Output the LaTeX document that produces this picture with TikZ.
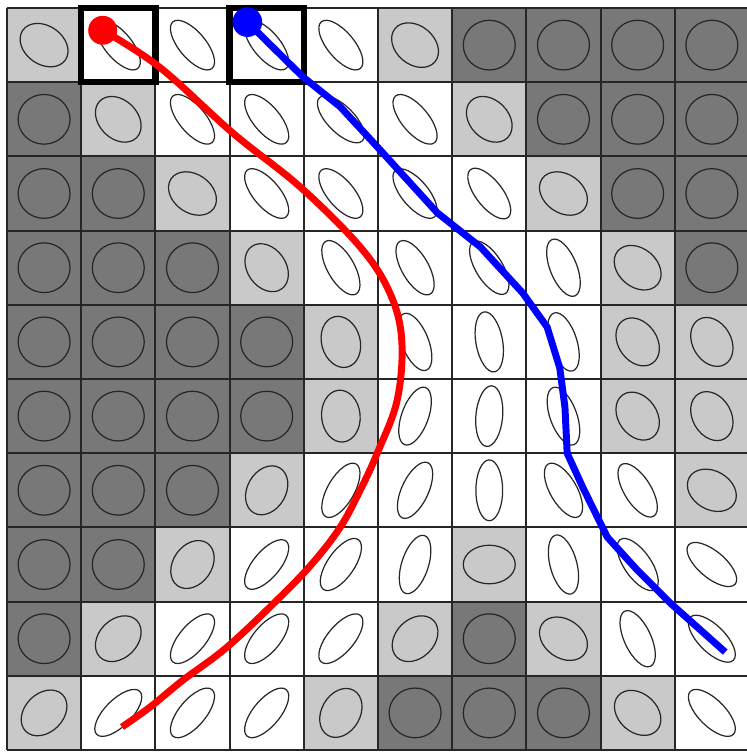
\documentclass[tikz,border=0pt]{standalone}
\usepackage{tikz}
\definecolor{darkcell}{gray}{0.47}
\definecolor{lightcell}{gray}{0.79}

\begin{document}
\begin{tikzpicture}[x=1.5cm,y=1.5cm,
	gridline/.style={black!85,line width=1.1pt},
	ell/.style={black!85,line width=0.7pt},
	pickbox/.style={black,line width=3.7pt},
	track/.style={line width=4pt,line join=round}]
	\useasboundingbox (-0.094,0.108) rectangle (9.973,-10.027);
	% cells
	\foreach \r/\c in {0/6,0/7,0/8,0/9,1/0,1/7,1/8,1/9,2/0,2/1,2/8,2/9,
		3/0,3/1,3/2,3/9,4/0,4/1,4/2,4/3,5/0,5/1,5/2,5/3,6/0,6/1,6/2,
		7/0,7/1,8/0,8/6,9/5,9/6,9/7}
		\fill[darkcell] (\c,-\r) rectangle ++(1,-1);
	\foreach \r/\c in {0/0,0/5,1/1,1/6,2/2,2/7,3/3,3/8,4/4,4/8,4/9,5/4,5/8,5/9,
		6/3,6/9,7/2,7/6,8/1,8/5,8/7,9/0,9/4,9/8}
		\fill[lightcell] (\c,-\r) rectangle ++(1,-1);
	\foreach \i in {0,...,10} {
		\draw[gridline] (\i,0) -- (\i,-10);
		\draw[gridline] (0,-\i) -- (10,-\i);
	}
	% ellipses
	\foreach \r/\c in {0/6,0/7,0/8,0/9,1/0,1/7,1/8,1/9,2/0,2/1,2/8,2/9,
		3/0,3/1,3/2,3/9,4/0,4/1,4/2,4/3,5/0,5/1,5/2,5/3,6/0,6/1,6/2,
		7/0,7/1,8/0,8/6,9/5,9/6,9/7}
		\draw[ell] (\c+0.5,-\r-0.5) ellipse [x radius=0.35,y radius=0.335];
	\foreach \r/\c/\a in {0/0/145,0/5/140,1/1/135,1/6/135,2/2/145,2/7/145,
		3/3/125,3/8/140,4/4/105,4/8/125,4/9/120,5/4/95,5/8/125,5/9/120,
		6/3/60,6/9/150,7/2/55,7/6/0,8/1/45,8/5/45,8/7/145,9/0/45,9/4/60,9/8/138}
		\draw[ell,shift={(\c+0.5,-\r-0.5)},rotate=\a] (0,0) ellipse [x radius=0.35,y radius=0.26];
	\foreach \r/\c/\a in {0/1/130,0/2/130,0/3/130,0/4/130,1/2/130,1/3/130,1/4/135,1/5/130,
		2/3/130,2/4/130,2/5/130,2/6/128,3/4/120,3/5/120,3/6/122,3/7/112,
		4/5/112,4/6/100,4/7/108,5/5/70,5/6/85,5/7/110,6/4/60,6/5/65,6/6/90,6/7/120,6/8/122,
		7/3/50,7/4/55,7/5/72,7/7/105,7/8/125,7/9/140,8/2/50,8/3/50,8/4/50,8/8/115,8/9/135,
		9/1/45,9/2/50,9/3/50,9/9/135}
		\draw[ell,shift={(\c+0.5,-\r-0.5)},rotate=\a] (0,0) ellipse [x radius=0.41,y radius=0.18];
	% start cells
	\draw[pickbox] (1,0) rectangle (2,-1);
	\draw[pickbox] (3,0) rectangle (4,-1);
	% tracks
	\coordinate (redstart) at (1.29,-0.30);
	\coordinate (redend) at (1.55,-9.69);
	\coordinate (bluestart) at (3.24,-0.19);
	\coordinate (blueend) at (9.68,-8.68);
	\draw[track,red] plot[smooth,tension=0.6] coordinates {(redstart) (2.06,-0.80) (3.05,-1.69)
		(3.95,-2.41) (4.76,-3.22) (5.16,-3.84) (5.32,-4.47) (5.26,-5.28) (4.99,-6.00)
		(4.76,-6.50) (4.49,-7.00) (4.12,-7.48) (3.68,-7.94) (2.97,-8.61) (2.37,-9.06)
		(1.93,-9.42) (redend)};
	\draw[track,blue] (bluestart) -- (3.99,-0.93) -- (4.49,-1.33) -- (4.99,-1.87) -- (5.80,-2.76)
		-- (6.38,-3.22) -- (6.95,-3.84) -- (7.28,-4.30) -- (7.45,-4.85) -- (7.52,-5.38)
		-- (7.55,-6.00) -- (7.76,-6.46) -- (8.09,-7.13) -- (8.49,-7.57) -- (8.94,-8.02) -- (blueend);
	\fill[red] (redstart) circle [radius=0.195];
	\fill[blue] (bluestart) circle [radius=0.2];
\end{tikzpicture}
\end{document}
